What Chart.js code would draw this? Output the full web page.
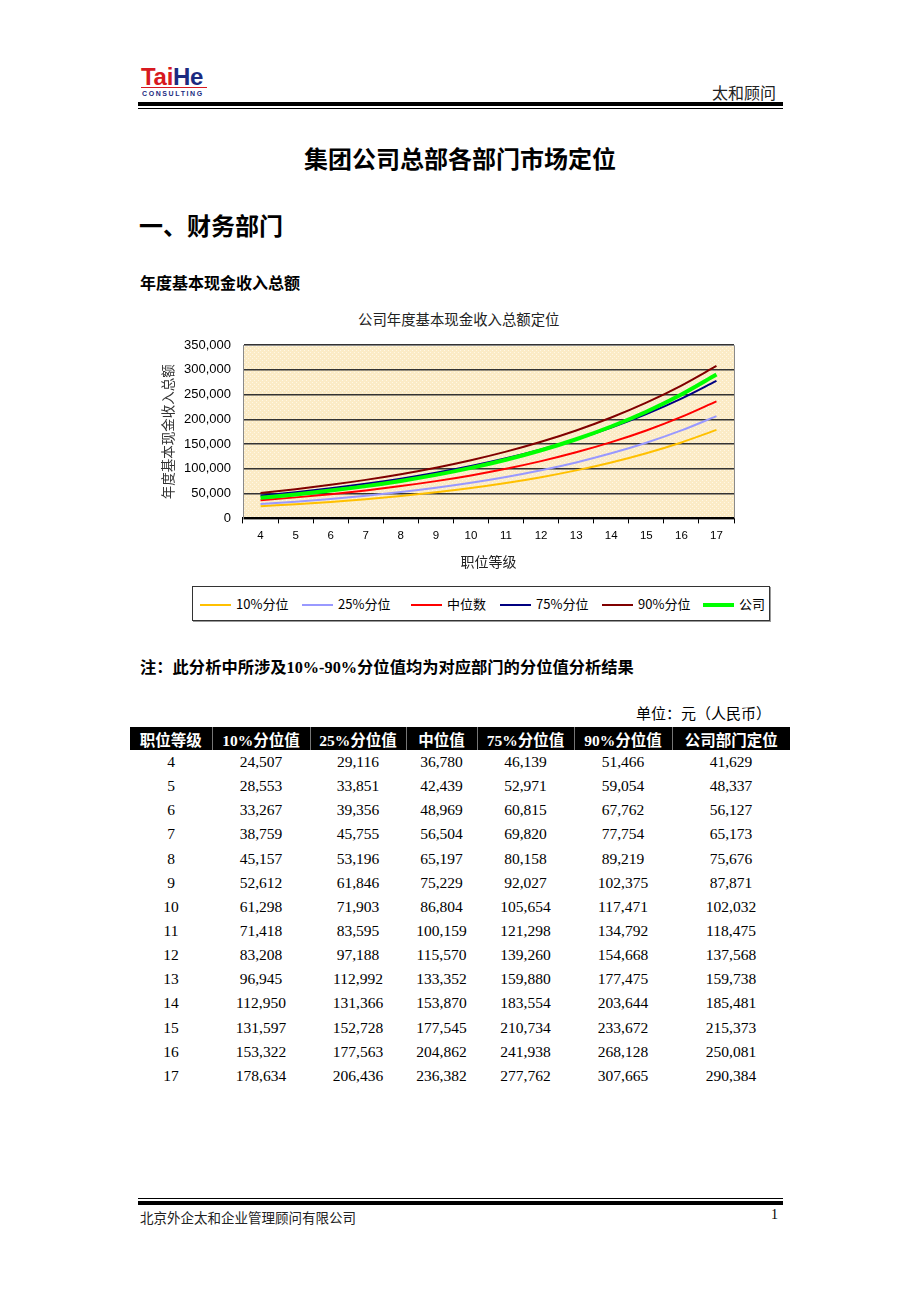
<!DOCTYPE html>
<html>
<head>
<meta charset="utf-8">
<script src="https://cdn.jsdelivr.net/npm/chart.js@4"></script>
<style>
  body { margin: 0; background: #fff; }
  #page { position: relative; width: 920px; height: 1302px; overflow: hidden;
    font-family: "Liberation Serif", "Noto Sans CJK SC", serif; color: #000; }
  .abs { position: absolute; white-space: nowrap; }
  .logo { left: 141px; top: 63px; font-family: "Liberation Sans", sans-serif;
    font-weight: bold; font-size: 24px; letter-spacing: -0.3px; line-height: normal; }
  .logo .r { color: #d71920; } .logo .b { color: #1b2a80; }
  .consult { left: 142px; top: 90px; font-family: "Liberation Sans", sans-serif; font-weight: bold;
    font-size: 7px; color: #1b2a80; line-height: normal; letter-spacing: 1.6px; }
  .cjk { font-family: "Noto Sans CJK SC", sans-serif; }
  table { border-collapse: collapse; table-layout: fixed; }
  th { background: #000; color: #fff; font-weight: bold; font-size: 15.5px; height: 23px; padding: 0;
    border-left: 1px solid #777; font-family: "Liberation Serif", "Noto Sans CJK SC", serif; }
  th:first-child { border-left: none; }
  td { text-align: center; font-size: 15.5px; height: 24.15px; padding: 0; }
  #legend { left: 192px; top: 586px; width: 576px; height: 33px; border: 1px solid #333;
    box-shadow: 1px 1px 0 #999; font-family: "Noto Sans CJK SC", sans-serif; font-size: 13px; }
  .item { position: absolute; top: 8px; line-height: 17px; }
  .swatch { display: inline-block; width: 31px; vertical-align: middle; margin-right: 5px; }
</style>
</head>
<body>
<div id="page">
  <div class="abs logo"><span class="r">Tai</span><span class="b">He</span></div>
  <div class="abs" style="left:141px;top:87px;width:66px;height:1px;background:#d71920;"></div>
  <div class="abs consult">CONSULTING</div>
  <div class="abs cjk" style="left:712px;top:80px;font-size:16px;color:#222;">太和顾问</div>
  <div class="abs" style="left:138px;top:102px;width:645px;height:4px;background:#000;"></div>
  <div class="abs" style="left:138px;top:108px;width:645px;height:1px;background:#000;"></div>

  <div class="abs cjk" style="left:0;width:920px;text-align:center;top:140px;font-size:24px;font-weight:bold;">集团公司总部各部门市场定位</div>
  <div class="abs cjk" style="left:139px;top:207px;font-size:24px;font-weight:bold;">一、财务部门</div>
  <div class="abs cjk" style="left:140px;top:270px;font-size:16px;font-weight:bold;">年度基本现金收入总额</div>

  <div class="abs cjk" id="ctitle" style="left:358px;top:308px;font-size:14.4px;color:#222;"></div>
  <div class="abs" style="left:150px;top:300px;width:630px;height:270px;">
    <canvas id="chart"></canvas>
  </div>
  <div class="abs" id="legend"></div>

  <div class="abs" style="left:140px;top:654px;font-size:16.3px;font-weight:bold;font-family:'Liberation Serif','Noto Sans CJK SC',serif;">注：此分析中所涉及10%-90%分位值均为对应部门的分位值分析结果</div>
  <div class="abs cjk" style="left:636px;top:702px;font-size:15px;">单位：元（人民币）</div>

  <div class="abs" style="left:130px;top:727px;">
    <table id="tbl">
      <colgroup>
        <col style="width:82px"><col style="width:98px"><col style="width:96px"><col style="width:71px">
        <col style="width:97px"><col style="width:98px"><col style="width:118px">
      </colgroup>
      <thead><tr id="thead"></tr></thead>
      <tbody id="tbody"></tbody>
    </table>
  </div>

  <div class="abs" style="left:138px;top:1198px;width:645px;height:1px;background:#000;"></div>
  <div class="abs" style="left:138px;top:1201px;width:645px;height:4px;background:#000;"></div>
  <div class="abs cjk" style="left:140px;top:1207px;font-size:13.5px;color:#222;">北京外企太和企业管理顾问有限公司</div>
  <div class="abs" style="left:771px;top:1207px;font-size:14px;">1</div>
</div>

<script>
// job grades (x axis)
const grades = [4, 5, 6, 7, 8, 9, 10, 11, 12, 13, 14, 15, 16, 17];

const p10 = [24507, 28553, 33267, 38759, 45157, 52612, 61298, 71418, 83208, 96945, 112950, 131597, 153322, 178634];
const p25 = [29116, 33851, 39356, 45755, 53196, 61846, 71903, 83595, 97188, 112992, 131366, 152728, 177563, 206436];
const median = [36780, 42439, 48969, 56504, 65197, 75229, 86804, 100159, 115570, 133352, 153870, 177545, 204862, 236382];
const p75 = [46139, 52971, 60815, 69820, 80158, 92027, 105654, 121298, 139260, 159880, 183554, 210734, 241938, 277762];
const p90 = [51466, 59054, 67762, 77754, 89219, 102375, 117471, 134792, 154668, 177475, 203644, 233672, 268128, 307665];
const company = [41629, 48337, 56127, 65173, 75676, 87871, 102032, 118475, 137568, 159738, 185481, 215373, 250081, 290384];

const seriesNames = ["10%分位", "25%分位", "中位数", "75%分位", "90%分位", "公司"];
const tableHeaders = ["职位等级", "10%分位值", "25%分位值", "中位值", "75%分位值", "90%分位值", "公司部门定位"];
const yTicks = [0, 50000, 100000, 150000, 200000, 250000, 300000, 350000];
const chartTitle = "公司年度基本现金收入总额定位";

const colors = ["#FFC000", "#9999FF", "#FF0000", "#000080", "#800000", "#00FF00"];
const widths = [2, 2, 2, 2, 2, 4];
const allSeries = [p10, p25, median, p75, p90, company];

const fmt = (v) => v.toLocaleString("en-US");

document.getElementById("ctitle").textContent = chartTitle;

// table
const thead = document.getElementById("thead");
tableHeaders.forEach((h) => {
  const th = document.createElement("th");
  th.textContent = h;
  thead.appendChild(th);
});
const tbody = document.getElementById("tbody");
grades.forEach((g, i) => {
  const tr = document.createElement("tr");
  const cells = [g].concat(allSeries.map((s) => fmt(s[i])));
  cells.forEach((c) => {
    const td = document.createElement("td");
    td.textContent = c;
    tr.appendChild(td);
  });
  tbody.appendChild(tr);
});

// legend
const legend = document.getElementById("legend");
const legendLeft = [7, 109, 218, 307, 409, 510];
seriesNames.forEach((name, i) => {
  const d = document.createElement("div");
  d.className = "item";
  d.style.left = legendLeft[i] + "px";
  d.innerHTML = '<span class="swatch" style="height:' + widths[i] + 'px;background:' + colors[i] + '"></span>' + name;
  legend.appendChild(d);
});

// tan dotted plot background
const pat = document.createElement("canvas");
pat.width = 4; pat.height = 4;
const pctx = pat.getContext("2d");
pctx.fillStyle = "#FBEBC6";
pctx.fillRect(0, 0, 4, 4);
pctx.fillStyle = "#FFF8E6";
pctx.fillRect(0, 0, 1, 1);
pctx.fillRect(2, 2, 1, 1);

const plotBg = {
  id: "plotBg",
  beforeDraw(chart) {
    const { ctx, chartArea: a } = chart;
    ctx.save();
    ctx.fillStyle = ctx.createPattern(pat, "repeat");
    ctx.fillRect(a.left, a.top, a.right - a.left, a.bottom - a.top);
    ctx.restore();
  },
  afterDatasetsDraw(chart) {
    const { ctx, chartArea: a } = chart;
    ctx.save();
    ctx.strokeStyle = "#8a8a8a";
    ctx.lineWidth = 1;
    ctx.beginPath();
    ctx.moveTo(a.left, a.top + 0.5);
    ctx.lineTo(a.right + 0.5, a.top + 0.5);
    ctx.lineTo(a.right + 0.5, a.bottom);
    ctx.stroke();
    ctx.restore();
  }
};

const datasets = seriesNames.map((name, i) => ({
  label: name,
  data: allSeries[i],
  borderColor: colors[i],
  backgroundColor: colors[i],
  borderWidth: widths[i],
  pointRadius: 0,
  tension: 0.4,
  cubicInterpolationMode: "monotone",
  order: i === 5 ? 0 : (i === 4 ? 1 : 6 - i + 1)
}));

new Chart(document.getElementById("chart"), {
  type: "line",
  data: { labels: grades, datasets: datasets },
  plugins: [plotBg],
  options: {
    responsive: true,
    maintainAspectRatio: false,
    animation: false,
    layout: { padding: { left: 0, right: 46, top: 45, bottom: 0 } },
    plugins: {
      legend: { display: false },
      tooltip: { enabled: false }
    },
    scales: {
      x: {
        offset: true,
        grid: { offset: true, drawOnChartArea: false, drawTicks: true, tickLength: 5, color: "#000" },
        border: { color: "#000", width: 2 },
        ticks: { color: "#000", font: { family: "Liberation Sans", size: 11.5 }, padding: 6, maxRotation: 0 },
        title: {
          display: true, text: "职位等级", color: "#222",
          font: { family: "Noto Sans CJK SC", size: 14 }, padding: { top: 4, bottom: 0 }
        }
      },
      y: {
        min: 0, max: 350000,
        afterBuildTicks(scale) { scale.ticks = yTicks.map((v) => ({ value: v })); },
        afterFit(scale) { scale.width = 93; },
        grid: { color: "#333", lineWidth: 1.5, drawTicks: false },
        border: { color: "#8a8a8a", width: 1 },
        ticks: {
          color: "#000", font: { family: "Liberation Sans", size: 13 }, padding: 12,
          callback: (v) => fmt(v)
        },
        title: {
          display: true, text: "年度基本现金收入总额", color: "#333",
          font: { family: "Noto Sans CJK SC", size: 13.5 }, padding: { top: 10, bottom: 0 }
        }
      }
    }
  }
});
</script>
</body>
</html>
